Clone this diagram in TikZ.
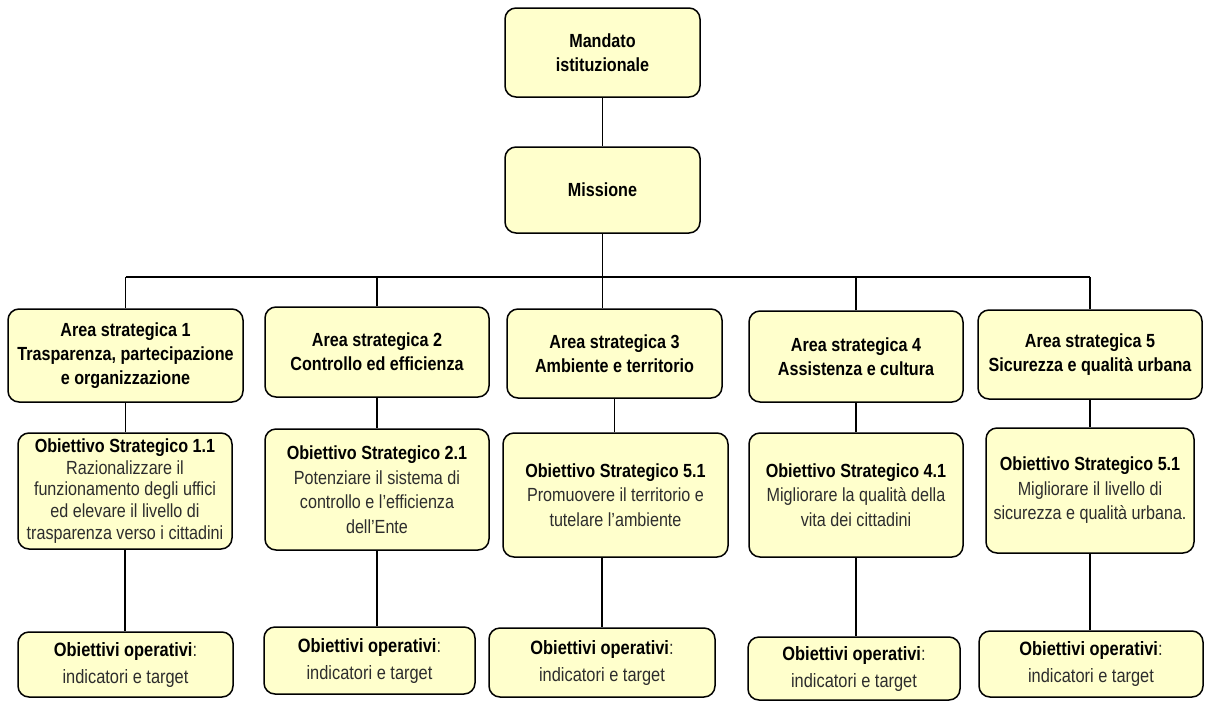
\documentclass[tikz,border=0pt]{standalone}
\usepackage{fontspec}
\setmainfont{Liberation Sans}[FakeStretch=0.85]
\usetikzlibrary{calc}
\definecolor{boxfill}{RGB}{255,255,204}
\definecolor{txtgray}{RGB}{45,45,45}
\newcommand{\bt}[1]{{\bfseries #1}}
\begin{document}
\begin{tikzpicture}[x=1pt,y=-1pt,
  box/.style={draw=black, line width=1.5pt, fill=boxfill, rounded corners=11pt,
    align=center, inner sep=0pt, font=\fontsize{19}{24}\selectfont},
  obox/.style={box, font=\fontsize{19}{24.5}\selectfont},
  o1box/.style={box, font=\fontsize{19}{21.7}\selectfont},
  pbox/.style={box, font=\fontsize{19.3}{27}\selectfont},
  link/.style={draw=black, line width=1.3pt}]
\useasboundingbox (0,0) rectangle (1205,702);
% top
\node[box, minimum width=195pt, minimum height=89pt] (M) at (602.5,52.5) {\bt{Mandato}\\\bt{istituzionale}};
\node[box, minimum width=195pt, minimum height=86pt] (Mi) at (602.5,190) {\bt{Missione}};
% areas
\node[box, minimum width=235pt, minimum height=93pt] (A1) at (125.5,355.5) {\bt{Area strategica 1}\\\bt{Trasparenza, partecipazione}\\\bt{e organizzazione}};
\node[box, minimum width=224pt, minimum height=90pt] (A2) at (377,352) {\bt{Area strategica 2}\\\bt{Controllo ed efficienza}};
\node[box, minimum width=215pt, minimum height=89pt] (A3) at (614.5,353.5) {\bt{Area strategica 3}\\\bt{Ambiente e territorio}};
\node[box, minimum width=214pt, minimum height=91pt] (A4) at (856,356.5) {\bt{Area strategica 4}\\\bt{Assistenza e cultura}};
\node[box, minimum width=224pt, minimum height=89pt] (A5) at (1090,354.5) {\bt{Area strategica 5}\\\bt{Sicurezza e qualità urbana}};
% strategic objectives
\node[o1box, minimum width=214pt, minimum height=116pt] (O1) at (125,491) {\bt{Obiettivo Strategico 1.1}\\\color{txtgray}Razionalizzare il\\\color{txtgray}funzionamento degli uffici\\\color{txtgray}ed elevare il livello di\\\color{txtgray}trasparenza verso i cittadini};
\node[obox, minimum width=224pt, minimum height=121pt] (O2) at (377,489.5) {\bt{Obiettivo Strategico 2.1}\\\color{txtgray}Potenziare il sistema di\\\color{txtgray}controllo e l’efficienza\\\color{txtgray}dell’Ente};
\node[obox, minimum width=225pt, minimum height=124pt] (O3) at (615.5,495) {\bt{Obiettivo Strategico 5.1}\\\color{txtgray}Promuovere il territorio e\\\color{txtgray}tutelare l’ambiente};
\node[obox, minimum width=214pt, minimum height=124pt] (O4) at (856,495) {\bt{Obiettivo Strategico 4.1}\\\color{txtgray}Migliorare la qualità della\\\color{txtgray}vita dei cittadini};
\node[obox, minimum width=208pt, minimum height=125pt] (O5) at (1090,490.5) {\bt{Obiettivo Strategico 5.1}\\\color{txtgray}Migliorare il livello di\\\color{txtgray}sicurezza e qualità urbana.};
% operational objectives
\node[pbox, minimum width=215pt, minimum height=65pt] (P1) at (125.5,664.5) {\bt{Obiettivi operativi}{\color{txtgray}:}\\\color{txtgray}indicatori e target};
\node[pbox, minimum width=211pt, minimum height=67pt] (P2) at (369.5,660.5) {\bt{Obiettivi operativi}{\color{txtgray}:}\\\color{txtgray}indicatori e target};
\node[pbox, minimum width=226pt, minimum height=69pt] (P3) at (602,662.5) {\bt{Obiettivi operativi}{\color{txtgray}:}\\\color{txtgray}indicatori e target};
\node[pbox, minimum width=212pt, minimum height=63pt] (P4) at (854,668.5) {\bt{Obiettivi operativi}{\color{txtgray}:}\\\color{txtgray}indicatori e target};
\node[pbox, minimum width=224pt, minimum height=66pt] (P5) at (1091,664) {\bt{Obiettivi operativi}{\color{txtgray}:}\\\color{txtgray}indicatori e target};
% connectors
\coordinate (bus) at (0,277);
\draw[link] (M.south) -- (Mi.north);
\draw[link] (Mi.south) -- (Mi.south |- bus);
\draw[link] (A1.north |- bus) -- (A5.north |- bus);
\draw[link] (A1.north) -- (A1.north |- bus);
\draw[link] (A2.north) -- (A2.north |- bus);
\draw[link] (A3.north -| Mi.south) -- (Mi.south |- bus);
\draw[link] (A4.north) -- (A4.north |- bus);
\draw[link] (A5.north) -- (A5.north |- bus);
\draw[link] (A1.south) -- (A1.south |- O1.north);
\draw[link] (A2.south) -- (A2.south |- O2.north);
\draw[link] (A3.south) -- (A3.south |- O3.north);
\draw[link] (A4.south) -- (A4.south |- O4.north);
\draw[link] (A5.south) -- (A5.south |- O5.north);
\draw[link] (O1.south) -- (O1.south |- P1.north);
\draw[link] (O2.south) -- (O2.south |- P2.north);
\draw[link] (P3.north |- O3.south) -- (P3.north);
\draw[link] (O4.south) -- (O4.south |- P4.north);
\draw[link] (O5.south) -- (O5.south |- P5.north);
\end{tikzpicture}
\end{document}
